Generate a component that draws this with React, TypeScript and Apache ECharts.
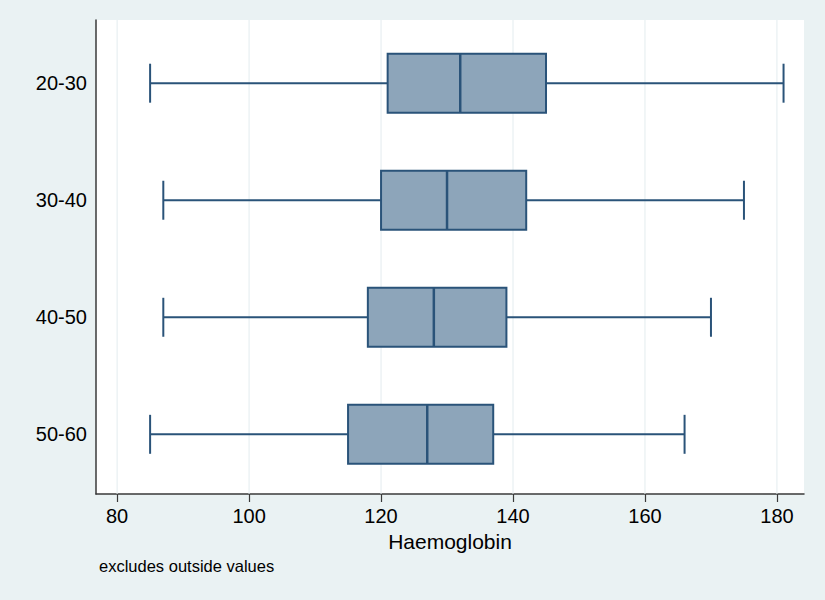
import React, { useEffect, useRef } from "react";
import * as echarts from "echarts";

const categories = ["20-30", "30-40", "40-50", "50-60"];
const lowWhisker = [85, 87, 87, 85];
const q1 = [121, 120, 118, 115];
const median = [132, 130, 128, 127];
const q3 = [145, 142, 139, 137];
const highWhisker = [181, 175, 170, 166];
const xTicks = [80, 100, 120, 140, 160, 180];

const FONT = "'Liberation Sans', Arial, Helvetica, sans-serif";
const BOX_FILL = "#8DA5BA";
const BOX_LINE = "#2A5379";

export default function App() {
  const ref = useRef<HTMLDivElement>(null);
  useEffect(() => {
    if (!ref.current) return;
    const chart = echarts.init(ref.current, null, { renderer: "svg" });
    const boxData = categories.map((_, i) => [
      i,
      lowWhisker[i],
      q1[i],
      median[i],
      q3[i],
      highWhisker[i],
    ]);
    const yMin = -0.54;
    const yMax = 3.51;
    chart.setOption({
      animation: false,
      backgroundColor: "#EAF2F3",
      textStyle: { fontFamily: FONT },
      grid: {
        left: 96,
        right: 21,
        top: 20,
        bottom: 106,
        show: true,
        backgroundColor: "#FFFFFF",
        borderWidth: 0,
      },
      xAxis: {
        type: "value",
        min: 76.8,
        max: 184.1,
        name: "Haemoglobin",
        nameLocation: "middle",
        nameGap: 35,
        nameTextStyle: { fontSize: 21, color: "#000", fontFamily: FONT },
        axisLine: { show: true, onZero: false, lineStyle: { color: "#3A3A3A", width: 1.5 } },
        axisTick: {
          show: true,
          length: 8,
          customValues: xTicks,
          lineStyle: { color: "#3A3A3A", width: 1.2 },
        },
        axisLabel: {
          customValues: xTicks,
          fontSize: 20,
          color: "#000",
          margin: 12,
          fontFamily: FONT,
        },
        splitLine: { show: false },
      },
      yAxis: {
        type: "value",
        inverse: true,
        min: yMin,
        max: yMax,
        axisLine: { show: true, onZero: false, lineStyle: { color: "#3A3A3A", width: 1.5 } },
        axisTick: { show: false },
        axisLabel: {
          customValues: [0, 1, 2, 3],
          formatter: (v: number) => categories[Math.round(v)] ?? "",
          fontSize: 20,
          color: "#000",
          margin: 9,
          fontFamily: FONT,
        },
        splitLine: { show: false },
      },
      graphic: [
        {
          type: "text",
          left: 99,
          top: 557,
          style: {
            text: "excludes outside values",
            fontSize: 16.5,
            fill: "#000",
            fontFamily: FONT,
          },
        },
      ],
      series: [
        {
          type: "custom",
          z: 1,
          silent: true,
          data: xTicks.map((v) => [v, 0]),
          encode: { x: 0, y: 1 },
          renderItem: (params: any, api: any) => {
            const v = api.value(0);
            const p1 = api.coord([v, yMin]);
            const p2 = api.coord([v, yMax]);
            return {
              type: "line",
              shape: { x1: p1[0], y1: p1[1], x2: p2[0], y2: p2[1] },
              style: { stroke: "#E3ECEF", lineWidth: 1 },
            };
          },
        },
        {
          type: "custom",
          z: 2,
          data: boxData,
          encode: { x: [1, 2, 3, 4, 5], y: 0 },
          renderItem: (params: any, api: any) => {
            const y = api.value(0);
            const lo = api.value(1);
            const a = api.value(2);
            const m = api.value(3);
            const b = api.value(4);
            const hi = api.value(5);
            const boxH = api.size([0, 0.504])[1];
            const capH = api.size([0, 0.333])[1];
            const pLo = api.coord([lo, y]);
            const pA = api.coord([a, y]);
            const pM = api.coord([m, y]);
            const pB = api.coord([b, y]);
            const pHi = api.coord([hi, y]);
            const cy = pA[1];
            const lineStyle = { stroke: BOX_LINE, lineWidth: 2 };
            return {
              type: "group",
              children: [
                {
                  type: "line",
                  shape: { x1: pLo[0], y1: cy, x2: pA[0], y2: cy },
                  style: lineStyle,
                },
                {
                  type: "line",
                  shape: { x1: pB[0], y1: cy, x2: pHi[0], y2: cy },
                  style: lineStyle,
                },
                {
                  type: "line",
                  shape: { x1: pLo[0], y1: cy - capH / 2, x2: pLo[0], y2: cy + capH / 2 },
                  style: lineStyle,
                },
                {
                  type: "line",
                  shape: { x1: pHi[0], y1: cy - capH / 2, x2: pHi[0], y2: cy + capH / 2 },
                  style: lineStyle,
                },
                {
                  type: "rect",
                  shape: { x: pA[0], y: cy - boxH / 2, width: pB[0] - pA[0], height: boxH },
                  style: { fill: BOX_FILL, stroke: BOX_LINE, lineWidth: 2 },
                },
                {
                  type: "line",
                  shape: { x1: pM[0], y1: cy - boxH / 2, x2: pM[0], y2: cy + boxH / 2 },
                  style: { stroke: BOX_LINE, lineWidth: 2.5 },
                },
              ],
            };
          },
        },
      ],
    });
    return () => chart.dispose();
  }, []);
  return (
    <div
      ref={ref}
      style={{ position: "fixed", left: 0, top: 0, width: 825, height: 600 }}
    />
  );
}
